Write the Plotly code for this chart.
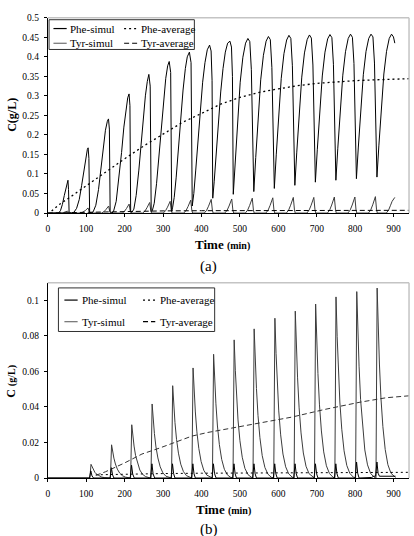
import plotly.graph_objects as go

# ---------------- data ----------------
# panel (a): Phe-simul  (time min, C g/L)
phe_simul_a = [
    (0, 0), (28, 0),
    (33, 0.006), (38, 0.022), (43, 0.045), (47, 0.065), (50, 0.079), (52.5, 0.084), (54, 0.06), (55.5, 0.002),
    (62, 0), (68, 0.002), (75, 0.012), (82, 0.035), (88, 0.07), (94, 0.11), (99, 0.145), (103, 0.163), (105, 0.167), (107, 0.14), (108.9, 0.002),
    (113, 0), (118, 0.003), (125, 0.02), (132, 0.06), (139, 0.12), (145, 0.175), (150, 0.212), (155, 0.235), (158, 0.241), (160.3, 0.215), (162.3, 0.003),
    (167, 0), (171, 0.004), (178, 0.03), (185, 0.085), (192, 0.155), (198, 0.22), (203, 0.265), (208, 0.295), (211.5, 0.305), (213.8, 0.275), (215.7, 0.004),
    (219, 0.002), (224, 0.01), (230, 0.045), (237, 0.11), (243, 0.18), (249, 0.25), (254, 0.3), (259, 0.337), (263, 0.355), (266.5, 0.325), (269.1, 0.004),
    (272, 0.006), (277, 0.025), (283, 0.075), (289, 0.145), (295, 0.22), (301, 0.29), (307, 0.345), (312, 0.377), (316, 0.388), (319.8, 0.36), (322.5, 0.005),
    (325, 0.015), (329, 0.04), (334, 0.09), (340, 0.165), (346, 0.245), (352, 0.315), (358, 0.37), (363, 0.4), (368.5, 0.412), (372.8, 0.385), (375.9, 0.018),
    (380, 0.05), (385, 0.11), (391, 0.19), (397, 0.27), (403, 0.335), (409, 0.385), (415, 0.418), (421, 0.43), (425, 0.415), (427.5, 0.34), (429.3, 0.038),
    (433, 0.08), (438, 0.15), (444, 0.235), (450, 0.31), (456, 0.37), (462, 0.412), (468, 0.435), (474, 0.44), (478, 0.425), (480.5, 0.35), (482.7, 0.048),
    (487.7, 0.136), (493.7, 0.240), (500.7, 0.335), (507.7, 0.399), (514.7, 0.435), (520.7, 0.447), (525.7, 0.439), (529.7, 0.367), (532.7, 0.228), (536.1, 0.055),
    (541.1, 0.142), (547.1, 0.246), (554.1, 0.341), (561.1, 0.404), (568.1, 0.440), (574.1, 0.452), (579.1, 0.444), (583.1, 0.373), (586.1, 0.234), (589.5, 0.063),
    (594.5, 0.149), (600.5, 0.251), (607.5, 0.345), (614.5, 0.408), (621.5, 0.443), (627.5, 0.455), (632.5, 0.447), (636.5, 0.377), (639.5, 0.239), (642.9, 0.071),
    (647.9, 0.156), (653.9, 0.256), (660.9, 0.348), (667.9, 0.410), (674.9, 0.444), (680.9, 0.456), (685.9, 0.448), (689.9, 0.379), (692.9, 0.244), (696.3, 0.079),
    (701.3, 0.162), (707.3, 0.260), (714.3, 0.351), (721.3, 0.412), (728.3, 0.446), (734.3, 0.457), (739.3, 0.449), (743.3, 0.381), (746.3, 0.249), (749.7, 0.084),
    (754.7, 0.166), (760.7, 0.264), (767.7, 0.353), (774.7, 0.413), (781.7, 0.447), (787.7, 0.458), (792.7, 0.450), (796.7, 0.383), (799.7, 0.252), (803.1, 0.088),
    (808.1, 0.169), (814.1, 0.266), (821.1, 0.354), (828.1, 0.414), (835.1, 0.447), (841.1, 0.458), (846.1, 0.451), (850.1, 0.384), (853.1, 0.255), (856.5, 0.092),
    (861.5, 0.172), (867.5, 0.268), (874.5, 0.356), (881.5, 0.414), (888.5, 0.447), (894.5, 0.458), (899.5, 0.451), (903, 0.435),
]

# panel (a): Tyr-simul
tyr_simul_a = [
    (0, 0),
    (33.5, 0), (39.5, 0.001), (44.5, 0.0025), (48.5, 0.004), (51.5, 0.005), (54.5, 0.001), (56.5, 0),
    (86.9, 0), (92.9, 0.0026), (97.9, 0.0065), (101.9, 0.0104), (104.9, 0.013), (107.9, 0.0026), (109.9, 0),
    (140.3, 0), (146.3, 0.0036), (151.3, 0.009), (155.3, 0.0144), (158.3, 0.018), (161.3, 0.0036), (163.3, 0),
    (193.7, 0), (199.7, 0.0046), (204.7, 0.0115), (208.7, 0.0184), (211.7, 0.023), (214.7, 0.0046), (216.7, 0),
    (247.1, 0), (253.1, 0.0054), (258.1, 0.0135), (262.1, 0.0216), (265.1, 0.027), (268.1, 0.0054), (270.1, 0),
    (300.5, 0), (306.5, 0.006), (311.5, 0.015), (315.5, 0.024), (318.5, 0.030), (321.5, 0.006), (323.5, 0),
    (353.9, 0), (359.9, 0.0066), (364.9, 0.0165), (368.9, 0.0264), (371.9, 0.033), (374.9, 0.0066), (376.9, 0),
    (407.3, 0), (413.3, 0.007), (418.3, 0.0175), (422.3, 0.028), (425.3, 0.035), (428.3, 0.007), (430.3, 0),
    (460.7, 0), (466.7, 0.0072), (471.7, 0.018), (475.7, 0.0288), (478.7, 0.036), (481.7, 0.0072), (483.7, 0),
    (514.1, 0), (520.1, 0.0076), (525.1, 0.019), (529.1, 0.0304), (532.1, 0.038), (535.1, 0.0076), (537.1, 0),
    (567.5, 0), (573.5, 0.0078), (578.5, 0.0195), (582.5, 0.0312), (585.5, 0.039), (588.5, 0.0078), (590.5, 0),
    (620.9, 0), (626.9, 0.008), (631.9, 0.02), (635.9, 0.032), (638.9, 0.04), (641.9, 0.008), (643.9, 0),
    (674.3, 0), (680.3, 0.008), (685.3, 0.02), (689.3, 0.032), (692.3, 0.04), (695.3, 0.008), (697.3, 0),
    (727.7, 0), (733.7, 0.0082), (738.7, 0.0205), (742.7, 0.0328), (745.7, 0.041), (748.7, 0.0082), (750.7, 0),
    (781.1, 0), (787.1, 0.0082), (792.1, 0.0205), (796.1, 0.0328), (799.1, 0.041), (802.1, 0.0082), (804.1, 0),
    (834.5, 0), (840.5, 0.0084), (845.5, 0.021), (849.5, 0.0336), (852.5, 0.042), (855.5, 0.0084), (857.5, 0),
    (881, 0), (887, 0.008), (892, 0.02), (896, 0.03), (903, 0.04),
]

# panel (a): averages
phe_avg_a_t = [10, 30, 60, 90, 120, 160, 200, 250, 300, 350, 400, 450, 500, 550, 600, 650, 700, 750, 800, 850, 900, 940]
phe_avg_a_c = [0.005, 0.022, 0.042, 0.063, 0.085, 0.113, 0.139, 0.172, 0.201, 0.232, 0.255, 0.279, 0.296, 0.309, 0.318, 0.326, 0.332, 0.336, 0.339, 0.341, 0.343, 0.344]
tyr_avg_a_t = [0, 50, 100, 150, 200, 300, 400, 500, 600, 700, 800, 940]
tyr_avg_a_c = [0.0, 0.001, 0.002, 0.003, 0.004, 0.0055, 0.006, 0.0064, 0.0066, 0.0068, 0.0069, 0.007]

# panel (b): Tyr-simul (tall peaks)
tyr_simul_b = [
    (0, 0), (109.5, 0), (112.5, 0.0077), (115.5, 0.0060), (118.5, 0.0046), (122.5, 0.0032), (127.5, 0.0021), (133.5, 0.0012), (140.5, 0.0005), (148.5, 0.0002), (157.5, 0),
    (163, 0), (166, 0.0187), (169, 0.0146), (172, 0.0112), (176, 0.0079), (181, 0.0050), (187, 0.0028), (194, 0.0013), (202, 0.0005), (211, 0.0001),
    (215.5, 0), (218.5, 0.030), (221.5, 0.0234), (224.5, 0.018), (228.5, 0.0126), (233.5, 0.0081), (239.5, 0.0045), (246.5, 0.0021), (254.5, 0.0008), (263.5, 0.0002),
    (268.5, 0), (271.5, 0.0417), (274.5, 0.0325), (277.5, 0.025), (281.5, 0.0175), (286.5, 0.0113), (292.5, 0.0063), (299.5, 0.0029), (307.5, 0.0010), (316.5, 0.0002),
    (322, 0), (325, 0.052), (328, 0.0406), (331, 0.0312), (335, 0.0218), (340, 0.014), (346, 0.0078), (353, 0.0036), (361, 0.0013), (370, 0.0003),
    (375, 0), (378, 0.062), (381, 0.0484), (384, 0.0372), (388, 0.026), (393, 0.0167), (399, 0.0093), (406, 0.0043), (414, 0.0016), (423, 0.0003),
    (428.5, 0), (431.5, 0.0697), (434.5, 0.0544), (437.5, 0.0418), (441.5, 0.0293), (446.5, 0.0188), (452.5, 0.0105), (459.5, 0.0049), (467.5, 0.0017), (476.5, 0.0003),
    (482, 0), (485, 0.0778), (488, 0.0607), (491, 0.0467), (495, 0.0327), (500, 0.021), (506, 0.0117), (513, 0.0054), (521, 0.0019), (530, 0.0004),
    (534, 0), (537, 0.084), (540, 0.0655), (543, 0.0504), (547, 0.0353), (552, 0.0227), (558, 0.0126), (565, 0.0059), (573, 0.0021), (582, 0.0004),
    (588, 0), (591, 0.090), (594, 0.0702), (597, 0.054), (601, 0.0378), (606, 0.0243), (612, 0.0135), (619, 0.0063), (627, 0.0023), (636, 0.0005),
    (641, 0), (644, 0.094), (647, 0.0733), (650, 0.0564), (654, 0.0395), (659, 0.0254), (665, 0.0141), (672, 0.0066), (680, 0.0024), (689, 0.0005),
    (694, 0), (697, 0.098), (700, 0.0764), (703, 0.0588), (707, 0.0412), (712, 0.0265), (718, 0.0147), (725, 0.0069), (733, 0.0025), (742, 0.0005),
    (747, 0), (750, 0.102), (753, 0.0796), (756, 0.0612), (760, 0.0428), (765, 0.0275), (771, 0.0153), (778, 0.0071), (786, 0.0026), (795, 0.0005),
    (801, 0), (804, 0.105), (807, 0.0819), (810, 0.063), (814, 0.0441), (819, 0.0284), (825, 0.0158), (832, 0.0074), (840, 0.0026), (849, 0.0005),
    (854, 0), (857, 0.107), (860, 0.0835), (863, 0.0642), (867, 0.0449), (872, 0.0289), (878, 0.0161), (885, 0.0075), (893, 0.0027), (902, 0.0005), (905, 0.0003),
]

# panel (b): Phe-simul (small peaks)
phe_simul_b = [
    (0, 0), (108.5, 0), (112, 0.004), (115, 0.0012), (119, 0),
    (162, 0), (165.5, 0.0058), (168.5, 0.0018), (172, 0),
    (214.5, 0), (218, 0.0072), (221, 0.0022), (225, 0),
    (267.5, 0), (271, 0.008), (274, 0.0024), (278, 0),
    (321, 0), (324.5, 0.008), (327.5, 0.0024), (331, 0),
    (374, 0), (377.5, 0.008), (380.5, 0.0024), (384, 0),
    (427.5, 0), (431, 0.008), (434, 0.0024), (438, 0),
    (481, 0), (484.5, 0.008), (487.5, 0.0024), (491, 0),
    (533, 0), (536.5, 0.008), (539.5, 0.0024), (543, 0),
    (587, 0), (590.5, 0.008), (593.5, 0.0024), (597, 0),
    (640, 0), (643.5, 0.008), (646.5, 0.0024), (650, 0),
    (693, 0), (696.5, 0.008), (699.5, 0.0024), (703, 0),
    (746, 0), (749.5, 0.008), (752.5, 0.0024), (756, 0),
    (800, 0), (803.5, 0.009), (806.5, 0.0027), (810, 0),
    (843, 0.0003), (848, 0.001), (853, 0.001), (856.5, 0.009), (859.5, 0.0027), (863, 0.001), (905, 0.001),
]

# panel (b): averages
phe_avg_b_t = [125, 200, 300, 400, 500, 600, 700, 800, 940]
phe_avg_b_c = [0.0018, 0.0022, 0.0025, 0.0027, 0.0028, 0.0029, 0.0030, 0.0031, 0.0032]
tyr_avg_b_t = [125, 150, 200, 245, 290, 330, 375, 415, 465, 550, 635, 720, 810, 880, 940]
tyr_avg_b_c = [0.0015, 0.0035, 0.0085, 0.0135, 0.0168, 0.0200, 0.0236, 0.0256, 0.0276, 0.0309, 0.0343, 0.0386, 0.0426, 0.0452, 0.0463]

# ticks
x_ticks = [0, 100, 200, 300, 400, 500, 600, 700, 800, 900]
y_ticks_a = [0, 0.05, 0.1, 0.15, 0.2, 0.25, 0.3, 0.35, 0.4, 0.45, 0.5]
y_ticklabels_a = ["0", "0.05", "0.1", "0.15", "0.2", "0.25", "0.3", "0.35", "0.4", "0.45", "0.5"]
y_ticks_b = [0, 0.02, 0.04, 0.06, 0.08, 0.1]
y_ticklabels_b = ["0", "0.02", "0.04", "0.06", "0.08", "0.1"]

# ---------------- figure ----------------
W, H = 414, 536
FONT = "Liberation Serif, Times New Roman, serif"
BLACK = "#000000"
GRAY = "#707070"
DARKGRAY = "#3c3c3c"


def px(x):
    return x / W


def py(y):
    return 1 - y / H


def unzip(pairs):
    return [p[0] for p in pairs], [p[1] for p in pairs]


fig = go.Figure()

t, c = unzip(tyr_simul_a)
fig.add_trace(go.Scatter(x=t, y=c, mode="lines", line=dict(color=DARKGRAY, width=1), xaxis="x", yaxis="y", name="Tyr-simul"))
t, c = unzip(phe_simul_a)
fig.add_trace(go.Scatter(x=t, y=c, mode="lines", line=dict(color=BLACK, width=1), xaxis="x", yaxis="y", name="Phe-simul"))
fig.add_trace(go.Scatter(x=phe_avg_a_t, y=phe_avg_a_c, mode="lines", line=dict(color=BLACK, width=1.3, dash="2px,3px"), xaxis="x", yaxis="y", name="Phe-average"))
fig.add_trace(go.Scatter(x=tyr_avg_a_t, y=tyr_avg_a_c, mode="lines", line=dict(color=BLACK, width=1, dash="5px,3px"), xaxis="x", yaxis="y", name="Tyr-average"))

t, c = unzip(tyr_simul_b)
fig.add_trace(go.Scatter(x=t, y=c, mode="lines", line=dict(color=DARKGRAY, width=1), xaxis="x2", yaxis="y2", name="Tyr-simul"))
t, c = unzip(phe_simul_b)
fig.add_trace(go.Scatter(x=t, y=c, mode="lines", line=dict(color=BLACK, width=1), xaxis="x2", yaxis="y2", name="Phe-simul"))
fig.add_trace(go.Scatter(x=phe_avg_b_t, y=phe_avg_b_c, mode="lines", line=dict(color=BLACK, width=1, dash="2px,3px"), xaxis="x2", yaxis="y2", name="Phe-average"))
fig.add_trace(go.Scatter(x=tyr_avg_b_t, y=tyr_avg_b_c, mode="lines", line=dict(color="#333333", width=1, dash="5px,3px"), xaxis="x2", yaxis="y2", name="Tyr-average"))

tickfont = dict(family=FONT, size=9.5, color=BLACK)
common_x = dict(range=[0, 940], tickvals=x_ticks, showline=True, linecolor=BLACK, linewidth=1,
                ticks="outside", ticklen=3, tickcolor=BLACK, showgrid=False, zeroline=False,
                tickfont=tickfont, domain=[px(46), px(409)], fixedrange=True, ticklabelstandoff=4)
common_y = dict(showline=True, linecolor=BLACK, linewidth=1, ticks="outside", ticklen=3,
                tickcolor=BLACK, showgrid=False, zeroline=False, tickfont=tickfont, fixedrange=True,
                ticklabelstandoff=3)

fig.update_layout(
    width=W, height=H, autosize=False,
    margin=dict(l=0, r=0, t=0, b=0),
    paper_bgcolor="white", plot_bgcolor="white",
    showlegend=False,
    xaxis=dict(common_x, anchor="y"),
    yaxis=dict(common_y, range=[0, 0.5], tickvals=y_ticks_a, ticktext=y_ticklabels_a,
               domain=[py(212), py(13)], anchor="x"),
    xaxis2=dict(common_x, anchor="y2"),
    yaxis2=dict(common_y, range=[0, 0.11], tickvals=y_ticks_b, ticktext=y_ticklabels_b,
                domain=[py(482), py(283)], anchor="x2"),
)

shapes = []
# light gray frame (top + right) of each plot area
for xr, yr in (("x domain", "y domain"), ("x2 domain", "y2 domain")):
    shapes.append(dict(type="line", xref=xr, yref=yr, x0=0, x1=1, y0=1, y1=1, line=dict(color="#c4c4c4", width=1.5)))
    shapes.append(dict(type="line", xref=xr, yref=yr, x0=1, x1=1, y0=0, y1=1, line=dict(color="#c4c4c4", width=1.5)))

annotations = []
legfont = dict(family=FONT, size=11, color=BLACK)


def add_legend(box, rows, col1, col2, entries):
    x0, y0, x1, y1 = box
    shapes.append(dict(type="rect", xref="paper", yref="paper", x0=px(x0), x1=px(x1), y0=py(y1), y1=py(y0),
                       line=dict(color="#303030", width=1), fillcolor="white", layer="above"))
    for (row, col, label, color, dash, width) in entries:
        sx0, sx1, tx = (col1 if col == 0 else col2)
        yy = rows[row]
        shapes.append(dict(type="line", xref="paper", yref="paper", x0=px(sx0), x1=px(sx1), y0=py(yy), y1=py(yy),
                           line=dict(color=color, width=width, dash=dash), layer="above"))
        annotations.append(dict(text=label, xref="paper", yref="paper", x=px(tx), y=py(yy), xanchor="left",
                                yanchor="middle", showarrow=False, font=legfont))


add_legend((47.3, 15, 193.3, 45.3), (24, 39), (51.7, 65, 66.5), (122.7, 136.7, 137.8), [
    (0, 0, "Phe-simul", BLACK, "solid", 1.2),
    (1, 0, "Tyr-simul", GRAY, "solid", 1.2),
    (0, 1, "Phe-average", BLACK, "2px,3px", 1.3),
    (1, 1, "Tyr-average", BLACK, "5px,3px", 1.2),
])
add_legend((56.7, 288.3, 213.7, 332.7), (300.7, 322.7), (62.7, 76, 78.5), (141.7, 154, 156.5), [
    (0, 0, "Phe-simul", BLACK, "solid", 1.2),
    (1, 0, "Tyr-simul", GRAY, "solid", 1.2),
    (0, 1, "Phe-average", BLACK, "2px,3px", 1.2),
    (1, 1, "Tyr-average", BLACK, "5px,3px", 1.2),
])

titlefont = dict(family=FONT, size=13, color=BLACK)
annotations += [
    dict(text="<b>C(g/L)</b>", x=px(10), y=py(112), xref="paper", yref="paper", textangle=-90,
         showarrow=False, xanchor="center", yanchor="middle", font=dict(family=FONT, size=12, color=BLACK)),
    dict(text="<b>Time <span style='font-size:10px'>(min)</span></b>", x=px(222), y=py(244), xref="paper", yref="paper",
         showarrow=False, xanchor="center", yanchor="middle", font=titlefont),
    dict(text="(a)", x=px(208), y=py(266), xref="paper", yref="paper", showarrow=False,
         xanchor="center", yanchor="middle", font=dict(family=FONT, size=15, color=BLACK)),
    dict(text="<b>C <span style='font-size:10px'>(g/L)</span></b>", x=px(9), y=py(383), xref="paper", yref="paper", textangle=-90,
         showarrow=False, xanchor="center", yanchor="middle", font=dict(family=FONT, size=12, color=BLACK)),
    dict(text="<b>Time <span style='font-size:10px'>(min)</span></b>", x=px(223), y=py(514), xref="paper", yref="paper",
         showarrow=False, xanchor="center", yanchor="middle", font=titlefont),
    dict(text="(b)", x=px(208), y=py(534), xref="paper", yref="paper", showarrow=False,
         xanchor="center", yanchor="middle", font=dict(family=FONT, size=15, color=BLACK)),
]

fig.update_layout(shapes=shapes, annotations=annotations)
fig.write_html("out.html")
